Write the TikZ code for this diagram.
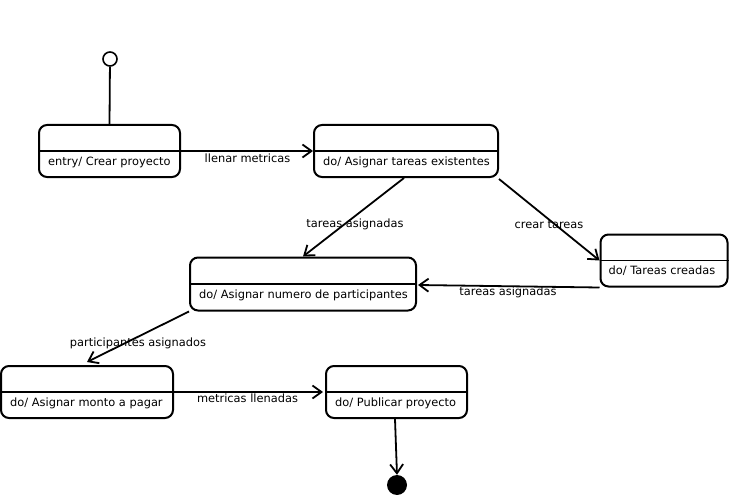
\documentclass[tikz,border=0pt]{standalone}
\usepackage{fontspec}
\setmainfont{DejaVu Sans}
\usetikzlibrary{arrows.meta,calc}
\begin{document}
\begin{tikzpicture}[x=1pt,y=-1pt,
  font=\fontsize{11.4}{13}\selectfont,
  state/.style={draw,line width=2pt,rounded corners=8pt,minimum height=52pt,inner sep=0pt},
  divider/.style={line width=1.5pt},
  act/.style={anchor=base west,inner sep=0pt},
  flow/.style={line width=1.8pt,-{Straight Barb[length=9pt,width=13pt,line width=1.8pt]}},
  lbl/.style={inner sep=0pt}]
\useasboundingbox (0,0) rectangle (729,495);

% pseudo-states
\node[draw,circle,line width=1.6pt,minimum size=14pt,inner sep=0pt] (init) at (110,59) {};
\node[fill=black,circle,minimum size=20pt,inner sep=0pt] (fin) at (397,485) {};

% states
\node[state,minimum width=141pt] (s1) at (109.5,151) {};
\node[state,minimum width=184pt] (s2) at (406,151) {};
\node[state,minimum width=226pt,minimum height=53pt] (s3) at (303,284) {};
\node[state,minimum width=127pt] (s4) at (664,260.5) {};
\node[state,minimum width=172pt] (s5) at (87,392) {};
\node[state,minimum width=141pt] (s6) at (396.5,392) {};

\foreach \s in {s1,s2,s3,s4,s5,s6}{\draw[divider] (\s.west) -- (\s.east);}

\node[act] (a1) at ($(s1.west)+(10,14)$) {entry/ Crear proyecto};
\node[act] (a2) at ($(s2.west)+(10,14)$) {do/ Asignar tareas existentes};
\node[act] (a3) at ($(s3.west)+(10,14)$) {do/ Asignar numero de participantes};
\node[act] (a4) at ($(s4.west)+(9,14)$) {do/ Tareas creadas};
\node[act] (a5) at ($(s5.west)+(10,14)$) {do/ Asignar monto a pagar};
\node[act] (a6) at ($(s6.west)+(10,14)$) {do/ Publicar proyecto};

% transitions
\draw[line width=1.8pt] (init) -- (s1.north);
\draw[flow] (s1.east) -- (s2.west);
\draw[flow] ($(s2.south west)+(91,0)$) -- ($(s3.north west)+(114,0)$);
\draw[flow] ($(s2.south east)+(0,1)$) -- (s4.west);
\draw[flow] (s4.south west) -- ($(s3.east)+(1,1)$);
\draw[flow] (s3.south west) -- ($(s5.north west)+(87,-3)$);
\draw[flow] (s5.east) -- ($(s6.west)+(-2,0)$);
\draw[flow] ($(s6.south west)+(70,0)$) -- (fin.north);

% transition labels
\node[lbl] (l1) at (247.5,158) {llenar metricas};
\node[lbl] (l2) at (355,224) {tareas asignadas};
\node[lbl] (l3) at (549,225) {crear tareas};
\node[lbl] (l4) at (508,292) {tareas asignadas};
\node[lbl] (l5) at (138,343) {participantes asignados};
\node[lbl] (l6) at (247.5,398) {metricas llenadas};
\end{tikzpicture}
\end{document}
